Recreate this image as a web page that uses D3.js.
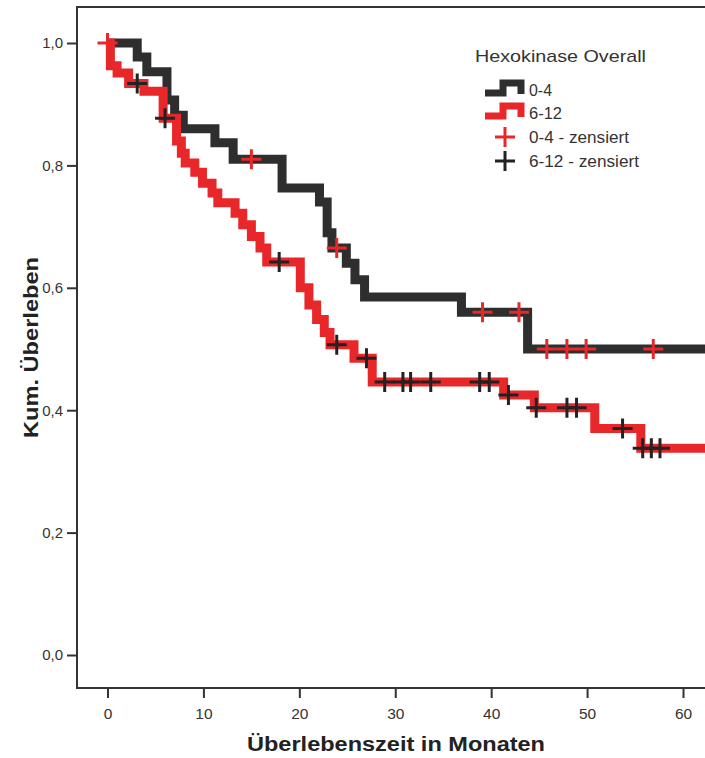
<!DOCTYPE html>
<html>
<head>
<meta charset="utf-8">
<script src="https://cdn.jsdelivr.net/npm/d3@7"></script>
<style>
  body { margin: 0; background: #fff; }
  svg { display: block; font-family: "Liberation Sans", Arial, sans-serif; }
</style>
</head>
<body>
<div id="chart"></div>
<script>
// Kaplan-Meier data (months, cumulative survival after the event)
const groupNames = ["0-4", "6-12"];

const eventTimes04 = [3.1, 4.1, 6.2, 7.0, 7.9, 11.2, 13.1, 18.2, 22.1, 22.9, 23.4, 24.9, 25.8, 26.8, 36.9, 43.8];
const survival04 = [0.977, 0.953, 0.907, 0.882, 0.86, 0.837, 0.81, 0.763, 0.74, 0.69, 0.665, 0.64, 0.613, 0.585, 0.56, 0.5];
const censored04 = [0, 15.0, 23.9, 39.1, 42.9, 45.8, 47.9, 49.9, 56.9];

const eventTimes612 = [0.3, 1.0, 2.2, 3.8, 5.8, 7.2, 7.7, 8.1, 9.1, 9.9, 10.9, 11.5, 13.3, 14.1, 15.0, 15.9, 16.6,
  20.1, 21.0, 21.8, 22.6, 23.2, 25.7, 27.6, 41.3, 44.5, 50.8, 55.6];
const survival612 = [0.963, 0.951, 0.934, 0.921, 0.877, 0.84, 0.82, 0.804, 0.789, 0.771, 0.755, 0.739, 0.722, 0.703, 0.684, 0.665, 0.642,
  0.6, 0.572, 0.548, 0.527, 0.507, 0.485, 0.446, 0.425, 0.404, 0.37, 0.338];
const censored612 = [3.1, 6.0, 17.9, 23.9, 27.0, 28.9, 30.8, 31.6, 33.7, 38.8, 39.8, 41.8, 44.7, 47.9, 48.9, 53.7, 55.8, 56.7, 57.6];

const lastTime = 63;
const xTicks = [0, 10, 20, 30, 40, 50, 60];
const yTicks = [0, 0.2, 0.4, 0.6, 0.8, 1.0];

const width = 705, height = 758;
const lineDark = "#2e2e2e", lineRed = "#e8272b";

const svg = d3.select("#chart").append("svg")
  .attr("width", width)
  .attr("height", height);

const x = d3.scaleLinear().domain([0, 60]).range([107.5, 683]);
const y = d3.scaleLinear().domain([0, 1]).range([655, 43]);

const frame = { left: 77, top: 7, right: 705, bottom: 688 };

svg.append("defs").append("clipPath").attr("id", "plotclip")
  .append("rect")
  .attr("x", frame.left).attr("y", frame.top)
  .attr("width", frame.right - frame.left).attr("height", frame.bottom - frame.top);

// frame
svg.append("path")
  .attr("d", "M" + frame.right + "," + frame.top + "H" + frame.left + "V" + frame.bottom + "H" + frame.right)
  .attr("fill", "none")
  .attr("stroke", "#333")
  .attr("stroke-width", 2);

// axes
const xAxis = svg.append("g")
  .attr("transform", "translate(0," + frame.bottom + ")")
  .call(d3.axisBottom(x).tickValues(xTicks).tickSize(10).tickPadding(10).tickFormat(d3.format("d")));
xAxis.select(".domain").remove();
xAxis.selectAll("line").attr("stroke", "#333").attr("stroke-width", 2);
xAxis.selectAll("text").attr("font-size", 15.5).attr("fill", "#333")
  .attr("font-family", "Liberation Sans, Arial, sans-serif");

const yAxis = svg.append("g")
  .attr("transform", "translate(" + frame.left + ",0)")
  .call(d3.axisLeft(y).tickValues(yTicks).tickSize(10).tickPadding(4)
    .tickFormat((d) => d3.format(".1f")(d).replace(".", ",")));
yAxis.select(".domain").remove();
yAxis.selectAll("line").attr("stroke", "#333").attr("stroke-width", 2);
yAxis.selectAll("text").attr("font-size", 15).attr("fill", "#333")
  .attr("font-family", "Liberation Sans, Arial, sans-serif");

svg.append("text")
  .attr("x", 247)
  .attr("y", 751)
  .attr("font-size", 20)
  .attr("font-weight", "bold")
  .attr("fill", "#222")
  .attr("textLength", 298)
  .attr("lengthAdjust", "spacingAndGlyphs")
  .text("Überlebenszeit in Monaten");

svg.append("text")
  .attr("transform", "translate(38,438) rotate(-90)")
  .attr("font-size", 20)
  .attr("font-weight", "bold")
  .attr("fill", "#222")
  .attr("textLength", 181)
  .attr("lengthAdjust", "spacingAndGlyphs")
  .text("Kum. Überleben");

// survival curves
function stepPoints(times, surv) {
  const pts = [[0, 1]];
  times.forEach((t, i) => pts.push([t, surv[i]]));
  pts.push([lastTime, surv[surv.length - 1]]);
  return pts;
}
function survivalAt(times, surv, t) {
  let s = 1;
  times.forEach((e, i) => { if (e <= t) s = surv[i]; });
  return s;
}

const step = d3.line()
  .curve(d3.curveStepAfter)
  .x((d) => x(d[0]))
  .y((d) => y(d[1]));

const plot = svg.append("g").attr("clip-path", "url(#plotclip)");

const curves = [
  { name: groupNames[0], pts: stepPoints(eventTimes04, survival04), color: lineDark },
  { name: groupNames[1], pts: stepPoints(eventTimes612, survival612), color: lineRed },
];

plot.selectAll(".km-line")
  .data(curves)
  .enter()
  .append("path")
  .attr("class", "km-line")
  .attr("d", (d) => step(d.pts))
  .attr("fill", "none")
  .attr("stroke", (d) => d.color)
  .attr("stroke-width", 9)
  .attr("stroke-linejoin", "miter");

// censored marks (colours swapped, as in the original)
const crossPath = "M-10,0H10M0,-10V10";
const marks = censored04.map((t) => ({ t: t, s: survivalAt(eventTimes04, survival04, t), color: lineRed }))
  .concat(censored612.map((t) => ({ t: t, s: survivalAt(eventTimes612, survival612, t), color: "#222" })));

plot.selectAll(".censor")
  .data(marks)
  .enter()
  .append("path")
  .attr("class", "censor")
  .attr("transform", (d) => "translate(" + x(d.t) + "," + y(d.s) + ")")
  .attr("d", crossPath)
  .attr("fill", "none")
  .attr("stroke", (d) => d.color)
  .attr("stroke-width", 3);

// legend
const legend = svg.append("g");
legend.append("text")
  .attr("x", 475).attr("y", 62)
  .attr("font-size", 17)
  .attr("fill", "#333")
  .attr("textLength", 171)
  .attr("lengthAdjust", "spacingAndGlyphs")
  .text("Hexokinase Overall");

const legendItems = [
  { label: "0-4", type: "line", color: lineDark, len: 23 },
  { label: "6-12", type: "line", color: lineRed, len: 33 },
  { label: "0-4 - zensiert", type: "cross", color: lineRed, len: 100 },
  { label: "6-12 - zensiert", type: "cross", color: "#222", len: 110 },
];
const legendY = [90, 113, 137, 161];

legendItems.forEach((d, i) => {
  const cy = legendY[i];
  if (d.type === "line") {
    legend.append("path")
      .attr("d", "M485," + (cy + 3) + "H503V" + (cy - 7) + "H521V" + (cy + 4))
      .attr("fill", "none")
      .attr("stroke", d.color)
      .attr("stroke-width", 7);
  } else {
    legend.append("path")
      .attr("transform", "translate(505," + cy + ")")
      .attr("d", crossPath)
      .attr("fill", "none")
      .attr("stroke", d.color)
      .attr("stroke-width", 3);
  }
  legend.append("text")
    .attr("x", 529).attr("y", cy + 6)
    .attr("font-size", 16)
    .attr("fill", "#333")
    .attr("textLength", d.len)
    .attr("lengthAdjust", "spacingAndGlyphs")
    .text(d.label);
});
</script>
</body>
</html>
